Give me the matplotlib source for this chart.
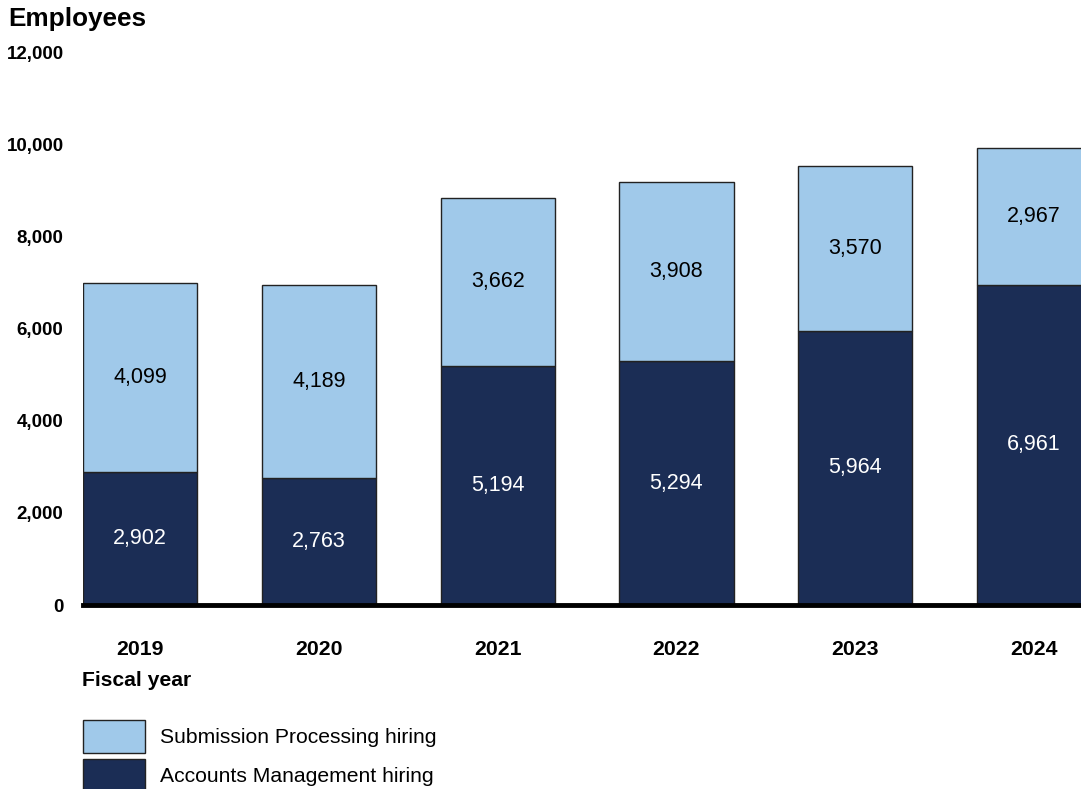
import numpy as np
import matplotlib.pyplot as plt

plt.rcParams['font.family'] = ['Liberation Sans', 'DejaVu Sans']

years = ['2019', '2020', '2021', '2022', '2023', '2024']
accounts_mgmt = [2902, 2763, 5194, 5294, 5964, 6961]
submission_proc = [4099, 4189, 3662, 3908, 3570, 2967]

light_blue = '#A0C9EA'
navy = '#1B2D55'

fig = plt.figure(figsize=(10.81, 7.89), dpi=100)
ax = fig.add_axes([83 / 1081, 184 / 789, 1 - 83 / 1081, 552 / 789])

x = np.arange(len(years))
w = 0.64
b1 = ax.bar(x, accounts_mgmt, w, color=navy, edgecolor='#222222', linewidth=1,
            label='Accounts Management hiring')
b2 = ax.bar(x, submission_proc, w, bottom=accounts_mgmt, color=light_blue,
            edgecolor='#222222', linewidth=1, label='Submission Processing hiring')

# value labels in the middle of each segment
for xi, a, s in zip(x, accounts_mgmt, submission_proc):
    ax.text(xi, a / 2, f'{a:,}', ha='center', va='center', color='white', fontsize=15.5)
    ax.text(xi, a + s / 2, f'{s:,}', ha='center', va='center', color='black', fontsize=15.5)

ax.axhline(0, color='black', lw=3.5, zorder=5, clip_on=False)

ax.set_xlim(-0.32, 5.263)
ax.set_ylim(0, 12000)
ax.set_yticks(np.arange(0, 12001, 2000))
ax.set_yticklabels([f'{v:,}' for v in range(0, 12001, 2000)], fontweight='bold', fontsize=13.5)
ax.set_xticks(x)
ax.set_xticklabels(years, fontweight='bold', fontsize=15.3)
ax.tick_params(axis='y', length=0, pad=14)
ax.tick_params(axis='x', length=0, pad=25)
for sp in ax.spines.values():
    sp.set_visible(False)

fig.text(8 / 1081, 1 - 19 / 789, 'Employees', fontsize=18.8, fontweight='bold', va='center', ha='left')
fig.text(82 / 1081, 1 - 681 / 789, 'Fiscal year', fontsize=15.2, fontweight='bold', va='center', ha='left')

fig.legend([b2, b1], ['Submission Processing hiring', 'Accounts Management hiring'],
           loc='upper left', bbox_to_anchor=(83 / 1081, 1 - 720 / 789), frameon=False,
           fontsize=15.2, handlelength=2.95, handleheight=2.02, handletextpad=0.7,
           labelspacing=0.28, borderpad=0, borderaxespad=0)

fig.savefig('out.png', dpi=100)
